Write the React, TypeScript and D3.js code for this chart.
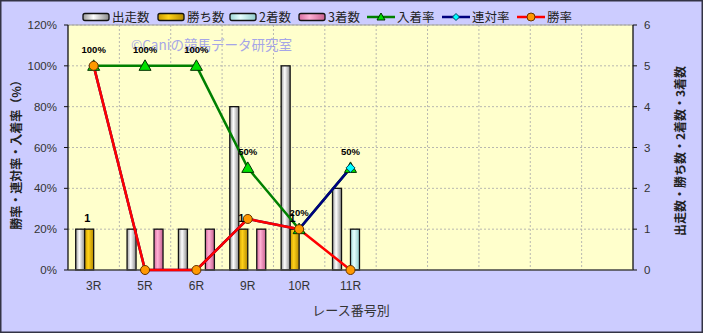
import React from "react";
import * as d3 from "d3";

const categories = ["3R", "5R", "6R", "9R", "10R", "11R"];
const slotCount = 11;
const starts = [1, 1, 1, 4, 5, 2];
const wins = [1, 0, 0, 1, 1, 0];
const seconds = [0, 0, 0, 0, 0, 1];
const thirds = [0, 1, 1, 1, 0, 0];
const placeRate = [1, 1, 1, 0.5, 0.2, 0.5];
const quinellaRate = [1, 0, 0, 0.25, 0.2, 0.5];
const winRate = [1, 0, 0, 0.25, 0.2, 0];
const leftTicks = [0, 0.2, 0.4, 0.6, 0.8, 1, 1.2];
const rightTicks = [0, 1, 2, 3, 4, 5, 6];
const barNames = ["出走数", "勝ち数", "2着数", "3着数"];
const lineNames = ["入着率", "連対率", "勝率"];

const W = 703, H = 333;
const L = 68, R = 633, T = 25, B = 270;
const FONT = "'Noto Sans CJK JP', 'Noto Sans', sans-serif";
const NUMFONT = "'Liberation Sans', Arial, sans-serif";

const barColors = [
  ["#9a9a9a", "#ffffff", "#8a8a8a"],
  ["#c89800", "#ffd21a", "#b58a00"],
  ["#9fd8d8", "#e6ffff", "#8fcaca"],
  ["#d86ea0", "#ffb0d4", "#c8608f"],
];

export default function App() {
  React.useEffect(() => {
    document.body.style.margin = "0";
  }, []);
  const x = d3.scaleBand<number>().domain(d3.range(slotCount)).range([L, R]).padding(0);
  const bw = x.bandwidth();
  const x1 = d3.scaleBand<number>().domain(d3.range(4)).range([-bw * 0.35, bw * 0.35]).padding(0);
  const yL = d3.scaleLinear().domain([0, 1.2]).range([B, T]);
  const yR = d3.scaleLinear().domain([0, 6]).range([B, T]);
  const cx = (i: number) => (x(i) as number) + bw / 2;
  const barSeries = [starts, wins, seconds, thirds];
  const lineSeries = [placeRate, quinellaRate, winRate];
  const lineColors = ["#008000", "#000080", "#ff0000"];
  const lineGen = d3.line<number>().x((_, i) => cx(i)).y((v) => yL(v));

  const tri = (px: number, py: number, s = 6) =>
    `M${px},${py - s}L${px + s},${py + s * 0.75}L${px - s},${py + s * 0.75}Z`;
  const dia = (px: number, py: number, s = 4.5) =>
    `M${px},${py - s}L${px + s},${py}L${px},${py + s}L${px - s},${py}Z`;

  const marker = (k: number, px: number, py: number, key: string) => {
    if (k === 0) return <path key={key} d={tri(px, py)} fill="#00e000" stroke="#003300" strokeWidth={1} />;
    if (k === 1) return <path key={key} d={dia(px, py)} fill="#00ffff" stroke="#004060" strokeWidth={1} />;
    return <circle key={key} cx={px} cy={py} r={4.5} fill="#ff9900" stroke="#663300" strokeWidth={1} />;
  };

  const legendBars = [83, 158, 230, 299];
  const legendLines = [367, 442, 517];
  const ly = 17;

  return (
    <svg width={W} height={H} style={{ display: "block", fontFamily: FONT }}>
      <defs>
        {barColors.map((c, i) => (
          <linearGradient key={i} id={`g${i}`} x1="0" x2="1" y1="0" y2="0">
            <stop offset="0%" stopColor={c[0]} />
            <stop offset="40%" stopColor={c[1]} />
            <stop offset="100%" stopColor={c[2]} />
          </linearGradient>
        ))}
      </defs>
      <rect x={0.75} y={0.75} width={W - 1.5} height={H - 1.5} fill="#ccccff" stroke="#333344" strokeWidth={1.5} />
      <rect x={L} y={T} width={R - L} height={B - T} fill="#ffffcc" />
      {leftTicks.slice(1).map((t) => (
        <line key={"h" + t} x1={L} x2={R} y1={yL(t)} y2={yL(t)} stroke="#b8b8b0" strokeDasharray="2,2" strokeWidth={1} />
      ))}
      {d3.range(1, slotCount).map((i) => (
        <line key={"v" + i} x1={x(i)} x2={x(i)} y1={T} y2={B} stroke="#b8b8b0" strokeDasharray="2,2" strokeWidth={1} />
      ))}
      <text x={131} y={50} fontSize={13.5} fill="#8888f0" opacity={0.75}>©Caniの競馬データ研究室</text>
      {categories.map((c, i) =>
        barSeries.map((s, k) =>
          s[i] > 0 ? (
            <rect key={c + k} x={cx(i) + (x1(k) as number)} y={yR(s[i])} width={x1.bandwidth()} height={B - yR(s[i])}
              fill={`url(#g${k})`} stroke="#111" strokeWidth={1.3} />
          ) : null
        )
      )}
      <line x1={L} x2={R} y1={T} y2={T} stroke="#a0a0a0" strokeWidth={1} />
      <line x1={L} x2={L} y1={T} y2={B} stroke="#111" strokeWidth={1.3} />
      <line x1={R} x2={R} y1={T} y2={B} stroke="#111" strokeWidth={1.3} />
      <line x1={L} x2={R} y1={B} y2={B} stroke="#444" strokeWidth={1.5} />
      {leftTicks.map((t) => (
        <g key={"lt" + t}>
          <line x1={L - 4} x2={L} y1={yL(t)} y2={yL(t)} stroke="#111" />
          <text x={57} y={yL(t) + 4} fontSize={11.5} textAnchor="end" fill="#333" fontFamily={NUMFONT}>{Math.round(t * 100)}%</text>
        </g>
      ))}
      {rightTicks.map((t) => (
        <g key={"rt" + t}>
          <line x1={R} x2={R + 4} y1={yR(t)} y2={yR(t)} stroke="#111" />
          <text x={644} y={yR(t) + 4} fontSize={11.5} fill="#333" fontFamily={NUMFONT}>{t}</text>
        </g>
      ))}
      {categories.map((c, i) => (
        <text key={"xl" + c} x={cx(i)} y={290} fontSize={12} textAnchor="middle" fill="#333" fontFamily={NUMFONT}>{c}</text>
      ))}
      {lineSeries.map((s, k) => (
        <path key={"l" + k} d={lineGen(s) || ""} fill="none" stroke={lineColors[k]} strokeWidth={2.5} />
      ))}
      {lineSeries.map((s, k) => s.map((v, i) => marker(k, cx(i), yL(v), `m${k}-${i}`)))}
      {placeRate.map((v, i) => (
        <text key={"pl" + i} x={cx(i)} y={yL(v) - 13} fontSize={9.5} fontWeight="bold" textAnchor="middle" fill="#000" fontFamily={NUMFONT}>{Math.round(v * 100)}%</text>
      ))}
      {wins.map((v, i) =>
        v > 0 ? (
          <text key={"wl" + i} x={cx(i) + (x1(1) as number) + x1.bandwidth() / 2 - 2} y={yR(v) - 7} fontSize={11} fontWeight="bold" textAnchor="middle" fill="#000" fontFamily={NUMFONT}>{v}</text>
        ) : null
      )}
      <text transform="translate(21,152) rotate(-90)" fontSize={12} fontWeight="bold" textAnchor="middle" fill="#222">勝率・連対率・入着率（%）</text>
      <text transform="translate(685,151) rotate(-90)" fontSize={12} fontWeight="bold" textAnchor="middle" fill="#222">出走数・勝ち数・2着数・3着数</text>
      <text x={351} y={315} fontSize={13} textAnchor="middle" fill="#333">レース番号別</text>
      {barNames.map((n, k) => (
        <g key={"lb" + k}>
          <rect x={legendBars[k]} y={ly - 3.5} width={26} height={7} rx={2} fill={`url(#g${k})`} stroke="#111" strokeWidth={1.3} />
          <text x={legendBars[k] + 29} y={ly + 5} fontSize={12.5} fill="#222">{n}</text>
        </g>
      ))}
      {lineNames.map((n, k) => (
        <g key={"ll" + k}>
          <line x1={legendLines[k]} x2={legendLines[k] + 28} y1={ly} y2={ly} stroke={lineColors[k]} strokeWidth={2.5} />
          {k === 0 ? <path d={tri(legendLines[k] + 14, ly, 4)} fill="#00e000" stroke="#003300" strokeWidth={1} /> : null}
          {k === 1 ? <path d={dia(legendLines[k] + 14, ly, 3.5)} fill="#00ffff" stroke="#004060" strokeWidth={1} /> : null}
          {k === 2 ? <circle cx={legendLines[k] + 14} cy={ly} r={4} fill="#ff9900" stroke="#663300" strokeWidth={1} /> : null}
          <text x={legendLines[k] + 30} y={ly + 5} fontSize={12.5} fill="#222">{n}</text>
        </g>
      ))}
    </svg>
  );
}
